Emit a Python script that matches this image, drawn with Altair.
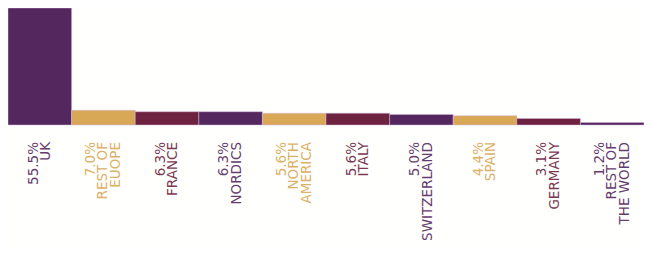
import altair as alt
import pandas as pd

regions = ["UK", "REST OF\nEUOPE", "FRANCE", "NORDICS", "NORTH\nAMERICA",
           "ITALY", "SWITZERLAND", "SPAIN", "GERMANY", "REST OF\nTHE WORLD"]
shares = [55.5, 7.0, 6.3, 6.3, 5.6, 5.6, 5.0, 4.4, 3.1, 1.2]
share_labels = ["55.5%", "7.0%", "6.3%", "6.3%", "5.6%", "5.6%", "5.0%", "4.4%", "3.1%", "1.2%"]
palette = ["#54285f", "#d9a856", "#6d2340"]

df = pd.DataFrame({
    "region": regions,
    "share": shares,
    "label": [p + "\n" + r for p, r in zip(share_labels, regions)],
    "lines": [2 + r.count("\n") for r in regions],
    "tone": [str(i % 3) for i in range(len(regions))],
})

x = alt.X("region:N", sort=regions, axis=None,
          scale=alt.Scale(paddingInner=0, paddingOuter=0))
color = alt.Color("tone:N", scale=alt.Scale(domain=["0", "1", "2"], range=palette), legend=None)
yscale = alt.Scale(domain=[0, 55.5], range=[117, 0], nice=False)

bars = alt.Chart(df).mark_bar(stroke="#d3b6dc", strokeWidth=0.5).encode(
    x=x,
    y=alt.Y("share:Q", axis=None, scale=yscale),
    color=color,
)

LH = 12.5


def label_layer(n):
    return alt.Chart(df).transform_filter(alt.datum.lines == n).mark_text(
        angle=270, align="right", baseline="middle", lineBreak="\n",
        font="DejaVu Sans", fontSize=13.5, lineHeight=LH,
        dx=-17, dy=-(n - 1) * LH / 2, opacity=0.9,
    ).encode(
        x=x,
        y=alt.datum(0),
        text="label:N",
        color=color,
    )


chart = alt.layer(bars, label_layer(2), label_layer(3)).properties(
    width=636, height=240, padding=0, background="#fffffd",
    autosize=alt.AutoSizeParams(type="none"),
).configure_view(stroke=None)

chart.save("out.html", embed_options={"renderer": "svg", "actions": False})
